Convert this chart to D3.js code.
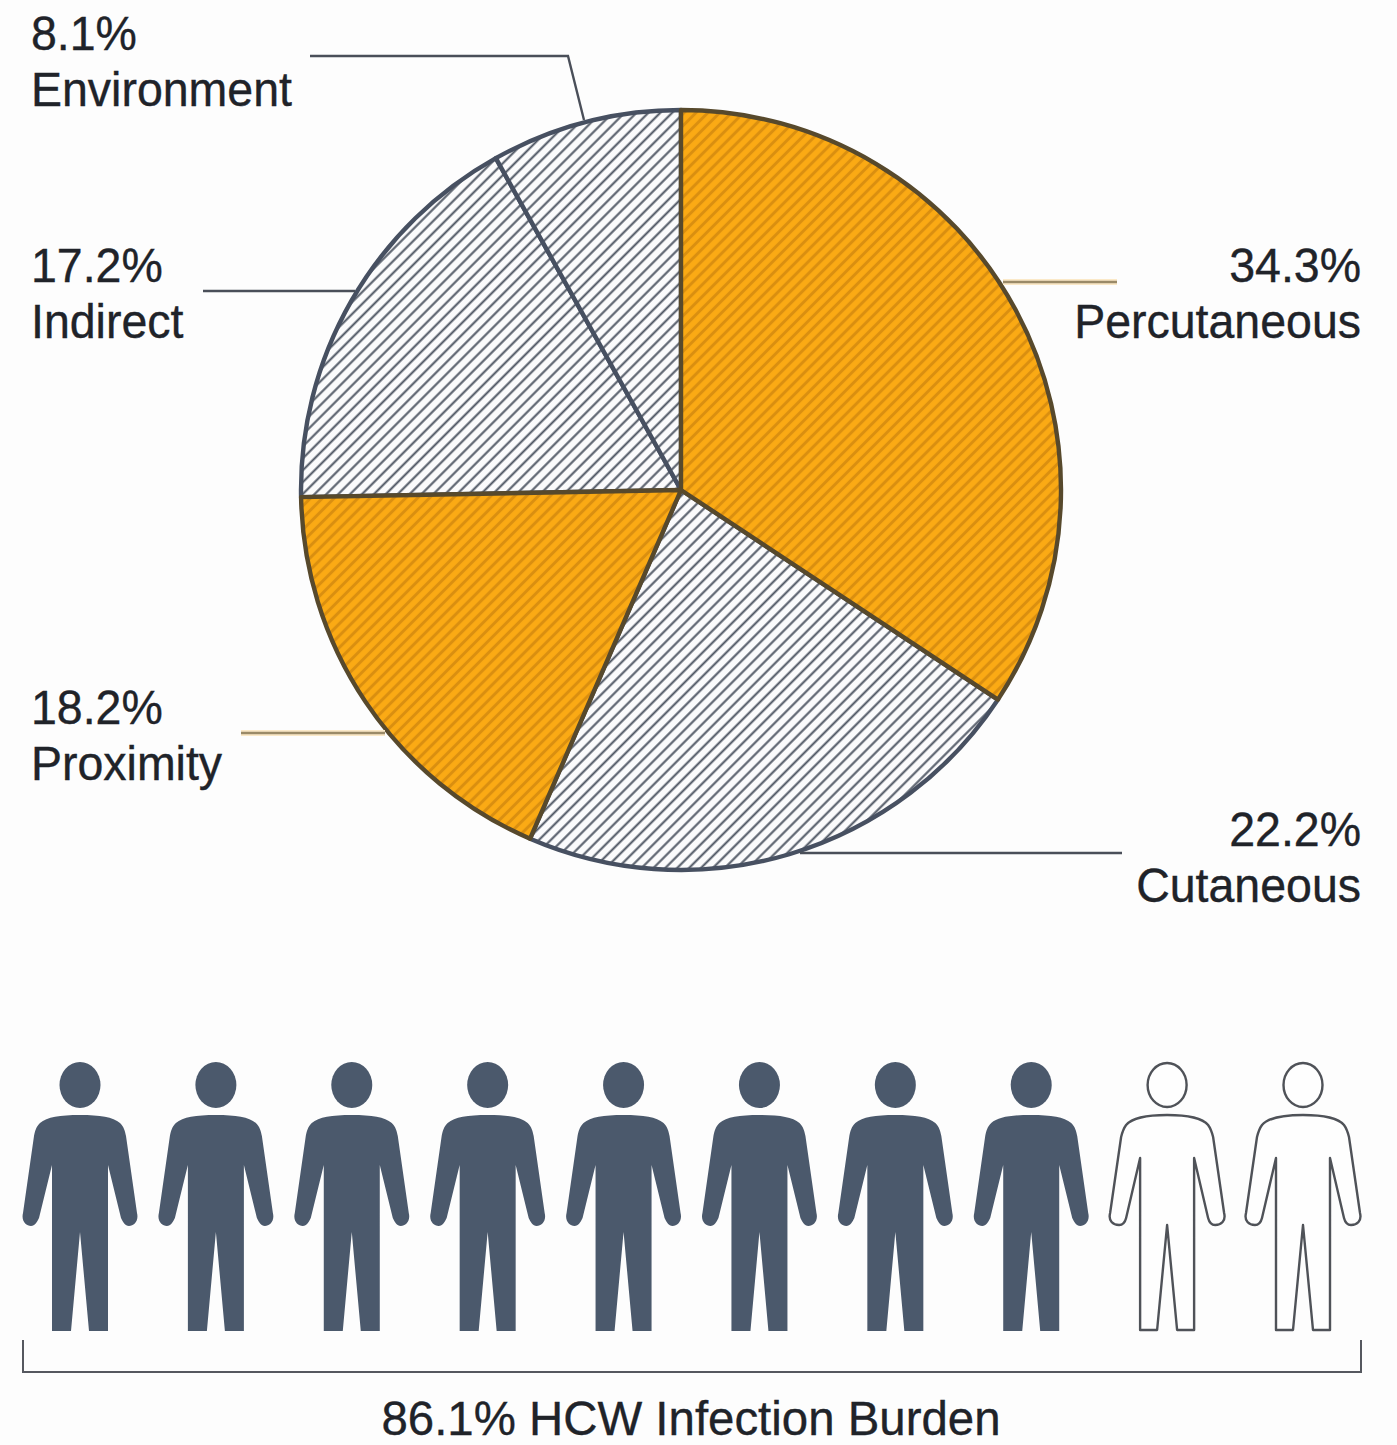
<!DOCTYPE html>
<html>
<head>
<meta charset="utf-8">
<script src="https://cdn.jsdelivr.net/npm/d3@7"></script>
<style>
  html, body { margin: 0; padding: 0; background: #fdfdfd; }
  svg { display: block; }
  text { font-family: "Liberation Sans", Arial, sans-serif; fill: #202329; stroke: #202329; stroke-width: 0.35; }
</style>
</head>
<body>
<div id="chart"></div>
<script>
// Exposure routes and their share of infections
const routes = ["Percutaneous", "Cutaneous", "Proximity", "Indirect", "Environment"];
const shares = [34.3, 22.2, 18.2, 17.2, 8.1];
const highlighted = ["Percutaneous", "Proximity"];

// Pictogram: ten workers, of which the filled ones carry the burden
const workers = ["filled", "filled", "filled", "filled", "filled", "filled", "filled", "filled", "open", "open"];
const burdenLabel = "86.1% HCW Infection Burden";

const width = 1397, height = 1445;
const pieCentre = [681, 490], pieRadius = 380;

const amber = "#fbaa14", amberDark = "#da8f10", seam = "#57492c";

const svg = d3.select("#chart").append("svg").attr("width", width).attr("height", height);
const defs = svg.append("defs");

function hatch(id, bg, ink, strokeWidth) {
  const step = 8.4;
  const p = defs.append("pattern")
    .attr("id", id).attr("patternUnits", "userSpaceOnUse")
    .attr("width", step).attr("height", step)
    .attr("patternTransform", "rotate(-45)");
  p.append("rect").attr("width", step).attr("height", step).attr("fill", bg);
  p.append("line").attr("x1", 0).attr("x2", step).attr("y1", step / 2).attr("y2", step / 2)
    .attr("stroke", ink).attr("stroke-width", strokeWidth);
}
hatch("hatch-plain", "#fbfbfc", "#4d5562", 2);
hatch("hatch-amber", amber, amberDark, 3);

// Pie
const isHot = d => highlighted.includes(d);
const table = routes.map((route, i) => ({ route, share: shares[i] }));
const arcs = d3.pie().sort(null).value(d => d.share)(table);
const arc = d3.arc().innerRadius(0).outerRadius(pieRadius);

const pie = svg.append("g").attr("transform", `translate(${pieCentre})`);
pie.selectAll("path")
  .data(arcs.slice().sort((a, b) => isHot(a.data.route) - isHot(b.data.route)))
  .join("path")
  .attr("d", arc)
  .attr("fill", d => isHot(d.data.route) ? "url(#hatch-amber)" : "url(#hatch-plain)")
  .attr("stroke", d => isHot(d.data.route) ? seam : "#475061")
  .attr("stroke-width", 4.4)
  .attr("stroke-linejoin", "round");

// Leader lines and route labels
const callouts = {
  Environment:  { x: 31,   anchor: "start", y: 50,  line: [[310, 56], [568, 56], [584, 120]], hot: false },
  Indirect:     { x: 31,   anchor: "start", y: 282, line: [[203, 291], [355, 291]], hot: false },
  Percutaneous: { x: 1361, anchor: "end",   y: 282, line: [[1003, 282], [1117, 282]], hot: true },
  Proximity:    { x: 31,   anchor: "start", y: 724, line: [[241, 733], [385, 733]], hot: true },
  Cutaneous:    { x: 1361, anchor: "end",   y: 846, line: [[800, 853], [1122, 853]], hot: false }
};
const leader = d3.line();
const routeLabel = (x, y, anchor, content) =>
  svg.append("text")
    .attr("transform", `translate(${x},${y}) scale(1,1.05)`)
    .attr("text-anchor", anchor)
    .attr("font-size", 46.5)
    .text(content);

table.forEach(d => {
  const c = callouts[d.route];
  if (c.hot) {
    svg.append("path").attr("d", leader(c.line)).attr("fill", "none")
      .attr("stroke", "#fbe9c8").attr("stroke-width", 6);
  }
  svg.append("path").attr("d", leader(c.line)).attr("fill", "none")
    .attr("stroke", c.hot ? "#9a8a68" : "#4a4f59").attr("stroke-width", 2.4);
  routeLabel(c.x, c.y, c.anchor, d.share.toFixed(1) + "%");
  routeLabel(c.x, c.y + 56, c.anchor, d.route);
});

// Person outlines, drawn around the head's centre line
const bodyFilled = "M0,65C20,65 33,67 40,73C44,77 45,81 46,86L57,163C59,171 54,176 49,176C45,176 43,172 41,168L28,115L28,281L9,281L0,182L-9,281L-28,281L-28,115L-41,168C-43,172 -45,176 -49,176C-54,176 -59,171 -57,163L-46,86C-45,81 -44,77 -40,73C-33,67 -20,65 0,65Z";
const bodyOpen = "M0,65C20,65 35,68 41,75C44,79 45,83 46,87L57,163C59,171 54,175 48,175C44,175 42,172 41,168L27,108L27,280L10,280L0,175L-10,280L-27,280L-27,108L-41,168C-42,172 -44,175 -48,175C-54,175 -59,171 -57,163L-46,87C-45,83 -44,79 -41,75C-35,68 -20,65 0,65Z";

const peopleX = d3.scalePoint().domain(d3.range(workers.length)).range([80, 1303]);
const people = svg.append("g").selectAll("g").data(workers).join("g")
  .attr("transform", (d, i) => `translate(${peopleX(i)},1050)`);

people.append("ellipse")
  .attr("cx", 0).attr("cy", 35)
  .attr("rx", d => d === "filled" ? 20.5 : 19.5)
  .attr("ry", d => d === "filled" ? 23 : 22)
  .attr("fill", d => d === "filled" ? "#4b596c" : "#fefefe")
  .attr("stroke", d => d === "filled" ? "none" : "#4f5258")
  .attr("stroke-width", 2.4);
people.append("path")
  .attr("d", d => d === "filled" ? bodyFilled : bodyOpen)
  .attr("fill", d => d === "filled" ? "#4b596c" : "#fefefe")
  .attr("stroke", d => d === "filled" ? "none" : "#4f5258")
  .attr("stroke-width", 2.4)
  .attr("stroke-linejoin", "round");

// Bracket spanning the row, with its caption
svg.append("path")
  .attr("d", d3.line()([[23, 1340], [23, 1372], [1361, 1372], [1361, 1340]]))
  .attr("fill", "none").attr("stroke", "#55585f").attr("stroke-width", 2);
svg.append("text").attr("x", 691).attr("y", 1435).attr("text-anchor", "middle")
  .attr("font-size", 47.4).text(burdenLabel);
</script>
</body>
</html>
